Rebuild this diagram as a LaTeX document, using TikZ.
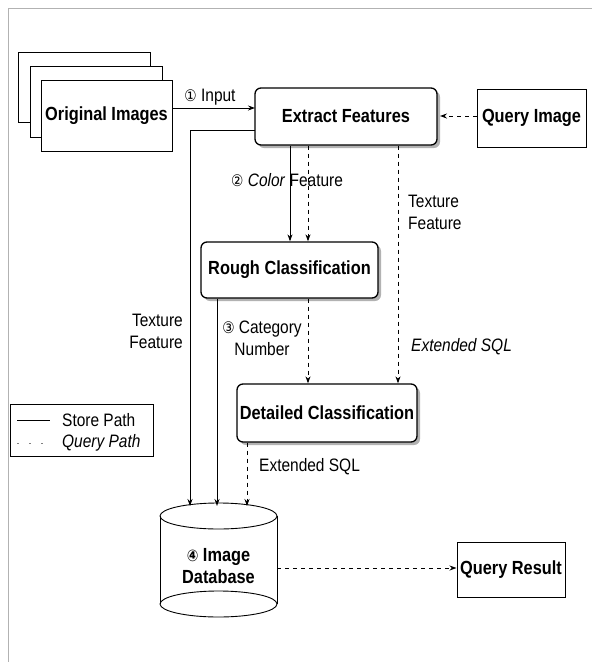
\documentclass[tikz,border=0pt]{standalone}
\usepackage{fontspec}
\setmainfont{Liberation Sans}[FakeStretch=0.86]
\newfontfamily\symf{DejaVu Sans}[FakeStretch=0.86]
\usetikzlibrary{arrows.meta,shadows}
\newcommand{\boxfont}{\fontsize{19}{22}\selectfont\bfseries}
\newcommand{\lblfont}{\fontsize{18}{22}\selectfont}
\newcommand{\cdig}[1]{{\symf\fontsize{16}{16}\selectfont #1}}
\begin{document}
\begin{tikzpicture}[x=1pt,y=-1pt,
  sheet/.style={draw, fill=white, line width=0.9pt, inner sep=0pt},
  plainbox/.style={draw, fill=white, line width=1pt, inner sep=0pt, font=\boxfont},
  rbox/.style={draw, fill=white, line width=1.3pt, inner sep=0pt, font=\boxfont,
    rounded corners=6pt,
    drop shadow={shadow xshift=3pt, shadow yshift=-3pt, fill=gray!60, opacity=1}},
  store/.style={-{Stealth[length=7pt,width=5pt]}, line width=0.9pt},
  query/.style={store, dash pattern=on 4pt off 4pt},
  lbl/.style={font=\lblfont, inner sep=0pt}]
\useasboundingbox (0,0) rectangle (592,662);
% outer frame (top and left edges)
\draw[gray!60, line width=1pt] (592,8) -- (8,8) -- (8,662);

% stacked original images
\node[sheet, minimum width=132, minimum height=70] (orig3) at (84,87) {};
\node[sheet, minimum width=132, minimum height=71] (orig2) at (96,101.5) {};
\node[sheet, minimum width=131, minimum height=71, font=\boxfont] (orig1) at (106.5,115.5) {Original Images};

% main boxes
\node[rbox, minimum width=182, minimum height=57] (extract) at (346,116.5) {Extract Features};
\node[plainbox, minimum width=109, minimum height=58] (qimg) at (531.5,118) {Query Image};
\node[rbox, minimum width=177, minimum height=56] (rough) at (289.5,270) {Rough Classification};
\node[rbox, minimum width=180, minimum height=58] (detail) at (327,413) {Detailed Classification};
\node[plainbox, minimum width=108, minimum height=55] (qres) at (511,569.5) {Query Result};

% database cylinder
\node[minimum width=117, minimum height=114, inner sep=0pt] (db) at (218.5,560) {};
\draw[line width=0.9pt] (218.5,516) ellipse [x radius=58.5, y radius=13];
\draw[line width=0.9pt] (160,516) -- (160,604);
\draw[line width=0.9pt] (277,516) -- (277,604);
\draw[line width=0.9pt] (218.5,604) ellipse [x radius=58.5, y radius=13];
\node[font=\boxfont, align=center, inner sep=0pt] (dbtext) at (218.5,566) {\cdig{④} Image\\Database};

% coordinates for connector ends
\coordinate (inA) at (172,108);
\coordinate (inB) at (255,108);
\coordinate (texS) at (255,130);
\coordinate (texC) at (190,130);
\coordinate (db1) at (190,506);
\coordinate (db2) at (217,506);
\coordinate (db3) at (247,506);

% connectors
\draw[store] (inA) -- (inB);
\draw[store] (texS) -- (texC) -- (db1);
\draw[store] (extract.south -| 290,0) -- (rough.north -| 290,0);
\draw[query] (extract.south -| 308,0) -- (rough.north -| 308,0);
\draw[query] (extract.south -| 398,0) -- (detail.north -| 398,0);
\draw[store] (rough.south -| 217,0) -- (db2);
\draw[query] (rough.south -| 308,0) -- (detail.north -| 308,0);
\draw[query] (detail.south -| 247,0) -- (db3);
\draw[query] (qimg.west |- 0,116) -- (440,116);
\draw[query] (db.east |- 0,568) -- (qres.west |- 0,568);

% labels
\node[lbl] (linput) at (210,97) {\cdig{①} Input};
\node[lbl, anchor=west] (lcolor) at (231,180) {\cdig{②} \textit{Color} Feature};
\node[lbl, anchor=east, align=right] (ltexl) at (183,331) {Texture\\Feature};
\node[lbl, align=center] (lcat) at (262,338) {\cdig{③} Category\\Number};
\node[lbl, anchor=west, align=left] (ltexr) at (408,212) {Texture\\Feature};
\node[lbl, anchor=west] (lsql1) at (411,347) {\textit{Extended SQL}};
\node[lbl, anchor=west] (lsql2) at (259,467) {Extended SQL};

% legend
\node[draw, line width=0.9pt, minimum width=143, minimum height=52, inner sep=0pt] (legend) at (81.5,430) {};
\draw[line width=0.9pt] (17,420) -- (50,420);
\draw[line width=0.6pt, gray, dash pattern=on 2pt off 10pt] (17,443) -- (50,443);
\node[lbl, anchor=west] (lstore) at (62,420) {Store Path};
\node[lbl, anchor=west] (lquery) at (62,443) {\textit{Query Path}};
\end{tikzpicture}
\end{document}
